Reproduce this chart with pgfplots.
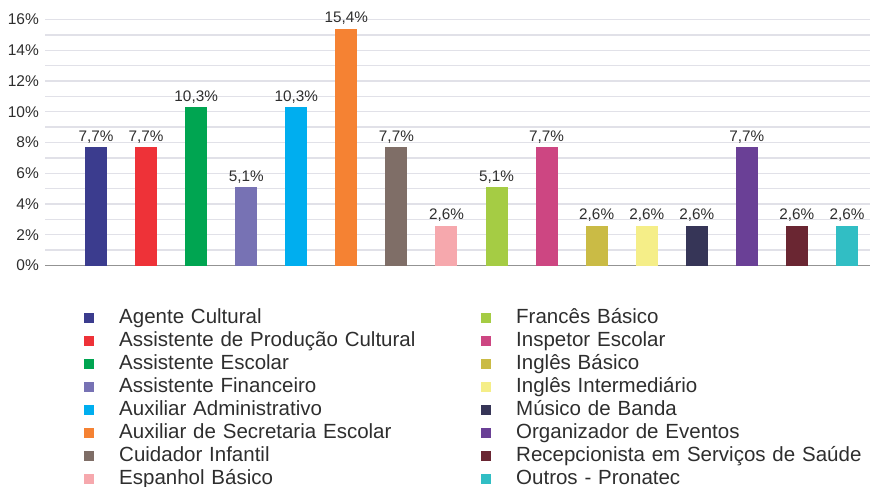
\documentclass[border=0pt]{standalone}
\usepackage{fontspec}
\setmainfont{Liberation Sans}
\usepackage{pgfplots}
\pgfplotsset{compat=1.18}

\definecolor{txt}{HTML}{2E2E2E}
\definecolor{gridc}{HTML}{E1E1E8}
\definecolor{c1}{HTML}{3B3C8E}
\definecolor{c2}{HTML}{EE3238}
\definecolor{c3}{HTML}{00A551}
\definecolor{c4}{HTML}{7772B4}
\definecolor{c5}{HTML}{00AEEF}
\definecolor{c6}{HTML}{F58233}
\definecolor{c7}{HTML}{7F6E67}
\definecolor{c8}{HTML}{F6A8AD}
\definecolor{c9}{HTML}{A5CC44}
\definecolor{c10}{HTML}{CD4682}
\definecolor{c11}{HTML}{CABB45}
\definecolor{c12}{HTML}{F5EE88}
\definecolor{c13}{HTML}{363557}
\definecolor{c14}{HTML}{6A4096}
\definecolor{c15}{HTML}{6A2632}
\definecolor{c16}{HTML}{31BEC4}

\pgfplotsset{
  bb/.style={ybar, bar width=22bp, bar shift=0pt, draw=none, fill=#1,
    legend image code/.code={\fill[#1] (0bp,-5bp) rectangle (10bp,5bp);}},
}

\begin{document}
\begin{tikzpicture}
\begin{axis}[
  at={(45bp,221.5bp)}, anchor=south west,
  scale only axis, width=830bp, height=246bp,
  xmin=-0.02, xmax=16.56, ymin=0, ymax=16,
  ytick={0,2,...,16}, minor ytick={1,3,...,15},
  xtick=\empty,
  ymajorgrids, yminorgrids,
  major grid style={draw=gridc, line width=1.4bp},
  minor grid style={draw=gridc, line width=1.4bp},
  axis x line*=bottom, axis y line*=left,
  y axis line style={draw=none},
  x axis line style={draw=gray!85, line width=1bp, -},
  major tick length=0pt, minor tick length=0pt,
  /pgf/number format/assume math mode=true,
  yticklabel={\pgfmathprintnumber{\tick}\%},
  yticklabel style={font=\fontsize{15.5bp}{18bp}\selectfont, text=txt, inner xsep=0pt, xshift=-6bp},
  clip=false,
  nodes near coords={\pgfmathprintnumber[fixed,precision=1,fixed zerofill,use comma]{\pgfplotspointmeta}\%},
  every node near coord/.append style={font=\fontsize{15.3bp}{18bp}\selectfont, text=txt, anchor=base, inner sep=0pt, yshift=6bp},
  legend columns=8, transpose legend,
  legend cell align=left,
  legend style={
    at={(0.047,-0.168)}, anchor=north west, draw=none, fill=none, inner sep=0pt,
    font=\fontsize{20.5bp}{23bp}\selectfont, text=txt,
    row sep=2bp,
    nodes={inner sep=0pt, text height=16bp, text depth=5bp, text width=362bp, align=left},
    /tikz/every odd column/.append style={column sep=25bp},
  },
]
\addplot[bb=c1] coordinates {(1,7.7)};
\addlegendentry{Agente Cultural}
\addplot[bb=c2] coordinates {(2,7.7)};
\addlegendentry{Assistente de Produção Cultural}
\addplot[bb=c3] coordinates {(3,10.3)};
\addlegendentry{Assistente Escolar}
\addplot[bb=c4] coordinates {(4,5.1)};
\addlegendentry{Assistente Financeiro}
\addplot[bb=c5] coordinates {(5,10.3)};
\addlegendentry{Auxiliar Administrativo}
\addplot[bb=c6] coordinates {(6,15.4)};
\addlegendentry{Auxiliar de Secretaria Escolar}
\addplot[bb=c7] coordinates {(7,7.7)};
\addlegendentry{Cuidador Infantil}
\addplot[bb=c8] coordinates {(8,2.6)};
\addlegendentry{Espanhol Básico}
\addplot[bb=c9] coordinates {(9,5.1)};
\addlegendentry{Francês Básico}
\addplot[bb=c10] coordinates {(10,7.7)};
\addlegendentry{Inspetor Escolar}
\addplot[bb=c11] coordinates {(11,2.6)};
\addlegendentry{Inglês Básico}
\addplot[bb=c12] coordinates {(12,2.6)};
\addlegendentry{Inglês Intermediário}
\addplot[bb=c13] coordinates {(13,2.6)};
\addlegendentry{Músico de Banda}
\addplot[bb=c14] coordinates {(14,7.7)};
\addlegendentry{Organizador de Eventos}
\addplot[bb=c15] coordinates {(15,2.6)};
\addlegendentry{Recepcionista em Serviços de Saúde}
\addplot[bb=c16] coordinates {(16,2.6)};
\addlegendentry{Outros - Pronatec}
\end{axis}
\pgfresetboundingbox
\path (0,0) rectangle (870bp,487bp);
\end{tikzpicture}
\end{document}
